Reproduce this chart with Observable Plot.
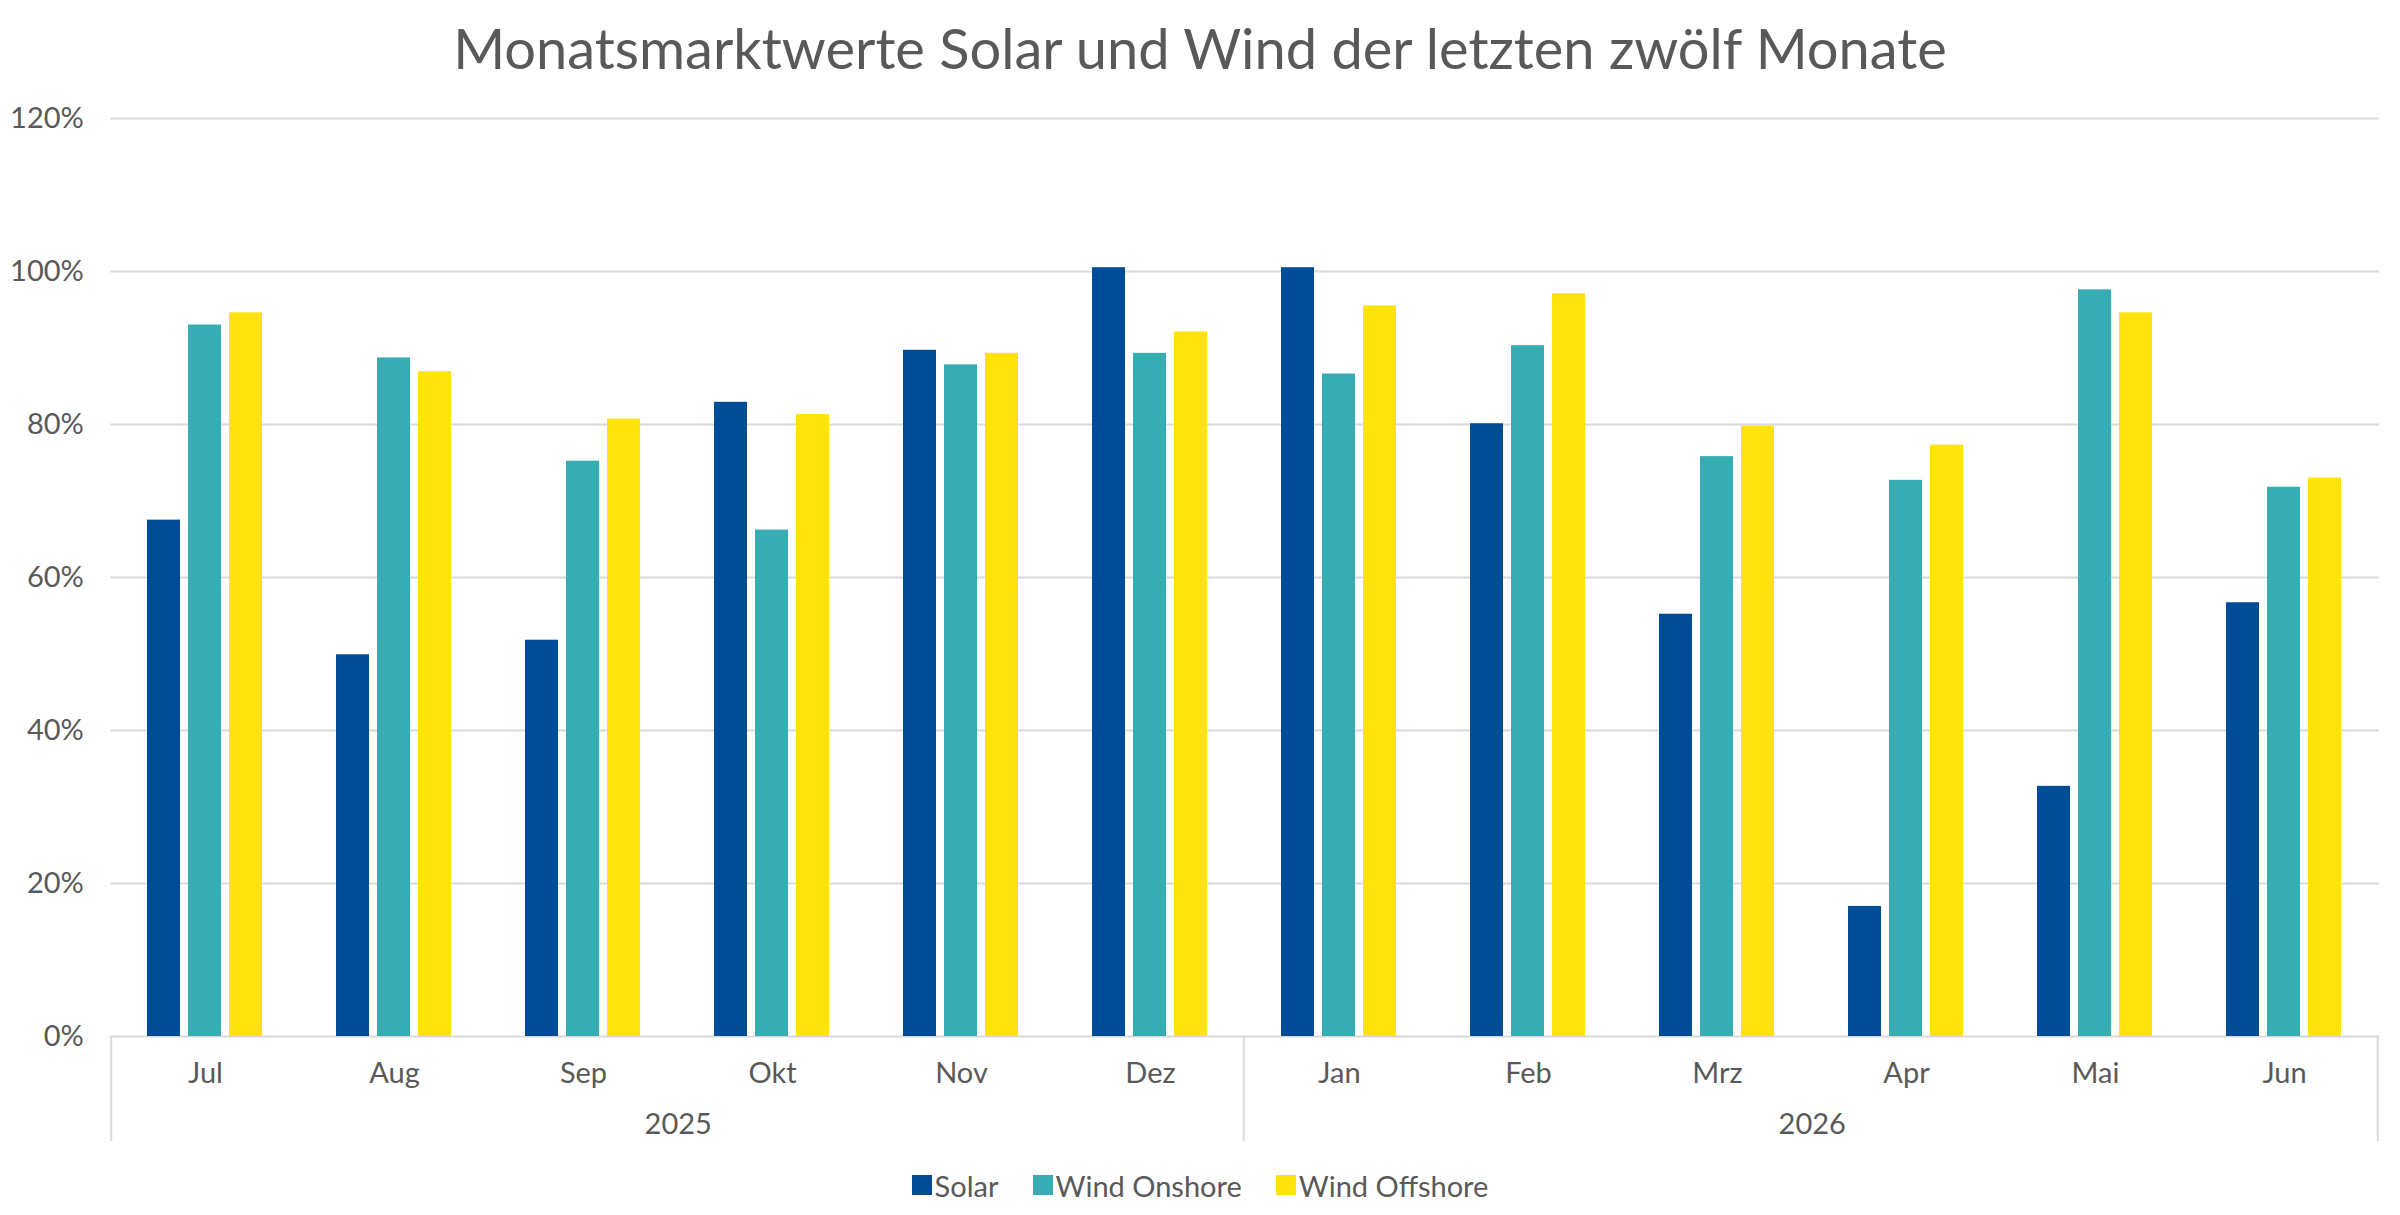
<!DOCTYPE html>
<html>
<head>
<meta charset="utf-8">
<script src="https://cdn.jsdelivr.net/npm/d3@7"></script>
<script src="https://cdn.jsdelivr.net/npm/@observablehq/plot@0.6"></script>
<style>
html, body { margin: 0; padding: 0; background: #fff; }
body { width: 2400px; font-family: Lato, "Open Sans", sans-serif; color: #595959; }
#title { height: 90px; text-align: center; font-size: 56px; line-height: 96px; white-space: nowrap; overflow: visible; }
#legend { display: flex; justify-content: center; align-items: center; height: 60px; }
#legend .lg-swatches { margin: 0; }
#legend .lg-swatch { margin-right: 34px; }
#legend .lg-swatch:last-child { margin-right: 0; }
#legend .lg-swatch > svg { margin-right: 3px; }
</style>
</head>
<body>
<div id="title">Monatsmarktwerte Solar und Wind der letzten zwölf Monate</div>
<div id="chart"></div>
<div id="legend"></div>
<script>
// ---- data ----
const months = ["Jul", "Aug", "Sep", "Okt", "Nov", "Dez", "Jan", "Feb", "Mrz", "Apr", "Mai", "Jun"];
const monthYears = ["2025", "2025", "2025", "2025", "2025", "2025", "2026", "2026", "2026", "2026", "2026", "2026"];
const seriesNames = ["Solar", "Wind Onshore", "Wind Offshore"];
const solar = [67.5, 49.9, 51.8, 82.9, 89.7, 100.5, 100.5, 80.1, 55.2, 17.0, 32.7, 56.7];
const windOnshore = [93.0, 88.7, 75.2, 66.2, 87.8, 89.3, 86.6, 90.3, 75.8, 72.7, 97.6, 71.8];
const windOffshore = [94.6, 86.9, 80.7, 81.3, 89.3, 92.1, 95.5, 97.1, 79.8, 77.3, 94.6, 73.0];
const yTicks = [0, 20, 40, 60, 80, 100, 120];
const colors = ["#004C97", "#36ACB3", "#FFE20E"];

// ---- table ----
const seriesValues = [solar, windOnshore, windOffshore];
const rows = [];
months.forEach((m, i) => seriesNames.forEach((s, j) => rows.push({month: m, series: s, value: seriesValues[j][i]})));
const yearNames = Array.from(new Set(monthYears));
const yearRows = yearNames.map(y => {
  const idx = monthYears.map((v, i) => v === y ? i : -1).filter(i => i >= 0);
  const first = idx[0], last = idx[idx.length - 1];
  return {year: y, first: months[first], last: months[last], mid: months[first + Math.floor(idx.length / 2) - 1]};
});

// ---- layout ----
const W = 2400, H = 1065, mL = 107, mR = 19, mT = 28, mB = 119;
const fxPad = 0.377, xPad = 0.19;
const fStep = (W - mL - mR) / (months.length - fxPad + fxPad);
const fBand = fStep * (1 - fxPad);
const halfGap = (fStep - fBand) / 2;
const xStep = fBand / (seriesNames.length - xPad);
const xBand = xStep * (1 - xPad);
const innerH = H - mT - mB;
const sepExt = 105;
const font = "Lato, 'Open Sans', sans-serif";

const chart = Plot.plot({
  width: W, height: H,
  marginLeft: mL, marginRight: mR, marginTop: mT, marginBottom: mB,
  style: {fontFamily: font, fontSize: "29px", color: "#595959", background: "#fff", overflow: "visible"},
  fx: {domain: months, paddingInner: fxPad, paddingOuter: fxPad / 2, label: null, tickSize: 0, tickPadding: 26, axis: "bottom"},
  x: {domain: seriesNames, paddingInner: xPad, paddingOuter: 0, axis: null},
  y: {domain: [0, 120], ticks: yTicks, tickFormat: d => d + "%", tickSize: 0, tickPadding: 27 + halfGap, label: null},
  color: {domain: seriesNames, range: colors},
  marks: [
    Plot.ruleY(yTicks, {stroke: "#d9d9d9", strokeWidth: 2, insetLeft: -halfGap, insetRight: -halfGap}),
    Plot.barY(rows, {fx: "month", x: "series", y: "value", fill: "series"}),
    Plot.ruleX(yearRows.slice(0, 1), {fx: "first", x: () => seriesNames[0], dx: -(xBand / 2 + halfGap), stroke: "#d9d9d9", strokeWidth: 2, insetTop: innerH, insetBottom: -sepExt}),
    Plot.ruleX(yearRows, {fx: "last", x: () => seriesNames[seriesNames.length - 1], dx: xBand / 2 + halfGap, stroke: "#d9d9d9", strokeWidth: 2, insetTop: innerH, insetBottom: -sepExt}),
    Plot.text(yearRows, {fx: "mid", text: "year", frameAnchor: "bottom-right", dx: halfGap, dy: 88, textAnchor: "middle", lineAnchor: "middle", fill: "#595959"})
  ]
});
document.getElementById("chart").appendChild(chart);

const legend = Plot.legend({
  color: {domain: seriesNames, range: colors},
  legend: "swatches",
  swatchSize: 20,
  className: "lg",
  style: {fontFamily: font, fontSize: "29px", color: "#595959"}
});
document.getElementById("legend").appendChild(legend);
</script>
</body>
</html>
